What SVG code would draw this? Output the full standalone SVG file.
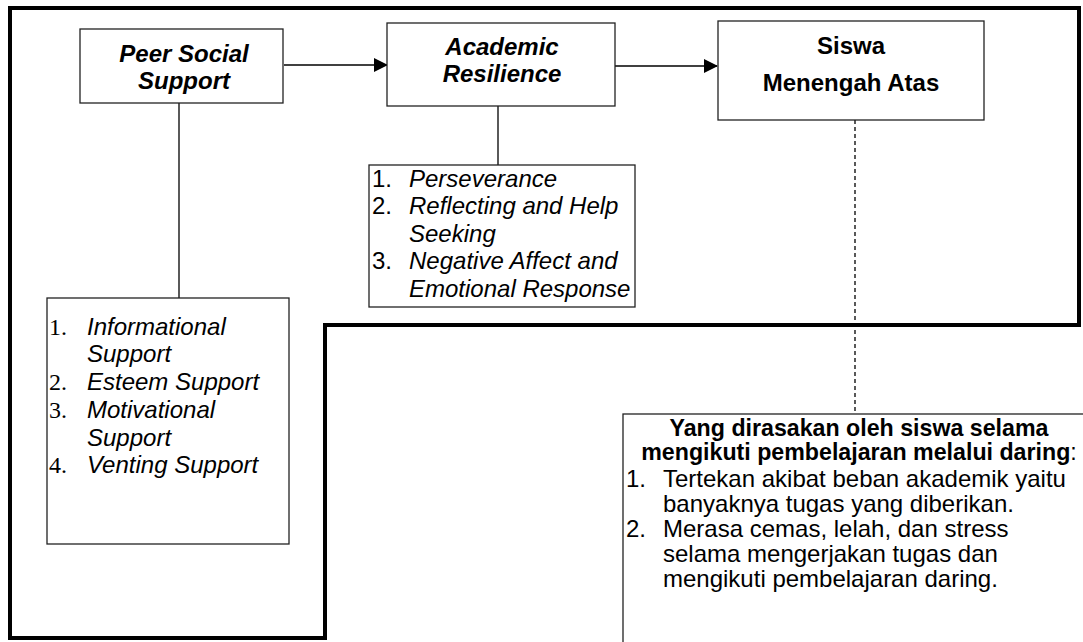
<svg xmlns="http://www.w3.org/2000/svg" width="1083" height="642" viewBox="0 0 1083 642">
<style>
.box{fill:#fff;stroke:#222;stroke-width:1.3}
.t{font-family:"Liberation Sans",Arial,sans-serif;font-size:24px;fill:#000}
.b{font-weight:bold}
.i{font-style:italic}
.h{font-size:23.2px}
.serif{font-family:"Liberation Serif","Times New Roman",serif}
.ln{stroke:#000;stroke-width:1.3;fill:none}
</style>
<defs>
<marker id="ah" markerWidth="14" markerHeight="14" refX="13" refY="7" orient="auto" markerUnits="userSpaceOnUse">
<path d="M0,0 L14,7 L0,14 Z" fill="#000"/>
</marker>
</defs>
<rect width="1083" height="642" fill="#fff"/>
<polygon points="10,8 1079,8 1079,325 325,325 325,638 10,638" fill="none" stroke="#000" stroke-width="4"/>
<g id="connectors">
<line class="ln" x1="284" y1="65" x2="387" y2="65" marker-end="url(#ah)"/>
<line class="ln" x1="615" y1="66" x2="717" y2="66" marker-end="url(#ah)"/>
<line class="ln" x1="179" y1="103" x2="179" y2="298"/>
<line class="ln" x1="498" y1="106" x2="498" y2="165"/>
<line class="ln" x1="855" y1="120" x2="855" y2="414" stroke-dasharray="4,3"/>
</g>
<g id="peer">
<rect class="box" x="80" y="29" width="203" height="74"/>
<text class="t b i" text-anchor="middle" x="184" y="62">Peer Social</text>
<text class="t b i" text-anchor="middle" x="184" y="89">Support</text>
</g>
<g id="academic">
<rect class="box" x="387" y="23" width="228" height="83"/>
<text class="t b i" text-anchor="middle" x="502" y="55">Academic</text>
<text class="t b i" text-anchor="middle" x="502" y="82">Resilience</text>
</g>
<g id="siswa">
<rect class="box" x="718" y="21" width="266" height="99"/>
<text class="t b" text-anchor="middle" x="851" y="54">Siswa</text>
<text class="t b" text-anchor="middle" x="851" y="91">Menengah Atas</text>
</g>
<g id="resilience-list">
<rect class="box" x="369" y="165" width="266" height="142"/>
<text class="t" x="372" y="187">1.</text>
<text class="t i" x="409" y="187">Perseverance</text>
<text class="t" x="372" y="214">2.</text>
<text class="t i" x="409" y="214">Reflecting and Help</text>
<text class="t i" x="409" y="242">Seeking</text>
<text class="t" x="372" y="269">3.</text>
<text class="t i" x="409" y="269">Negative Affect and</text>
<text class="t i" x="409" y="297">Emotional Response</text>
</g>
<g id="support-list">
<rect class="box" x="47" y="298" width="242" height="246"/>
<text class="t serif" x="49" y="335">1.</text>
<text class="t i" x="87" y="335">Informational</text>
<text class="t i" x="87" y="362">Support</text>
<text class="t serif" x="49" y="390">2.</text>
<text class="t i" x="87" y="390">Esteem Support</text>
<text class="t serif" x="49" y="418">3.</text>
<text class="t i" x="87" y="418">Motivational</text>
<text class="t i" x="87" y="446">Support</text>
<text class="t serif" x="49" y="473">4.</text>
<text class="t i" x="87" y="473">Venting Support</text>
</g>
<g id="felt">
<rect class="box" x="623" y="414" width="480" height="240"/>
<text class="t b h" text-anchor="middle" x="859" y="436">Yang dirasakan oleh siswa selama</text>
<text class="t h" text-anchor="middle" x="859" y="460"><tspan class="b">mengikuti pembelajaran melalui daring</tspan>:</text>
<text class="t" x="626" y="487">1.</text>
<text class="t" x="663" y="487">Tertekan akibat beban akademik yaitu</text>
<text class="t" x="663" y="512">banyaknya tugas yang diberikan.</text>
<text class="t" x="626" y="537">2.</text>
<text class="t" x="663" y="537">Merasa cemas, lelah, dan stress</text>
<text class="t" x="663" y="562">selama mengerjakan tugas dan</text>
<text class="t" x="663" y="587">mengikuti pembelajaran daring.</text>
</g>
</svg>
